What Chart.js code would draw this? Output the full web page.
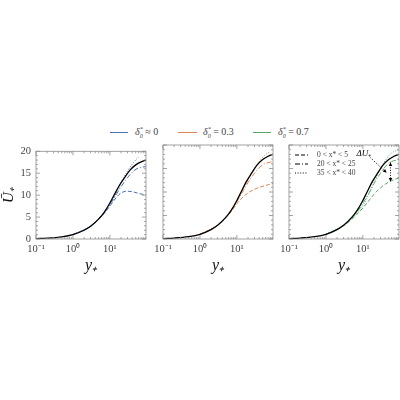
<!DOCTYPE html>
<html>
<head>
<meta charset="utf-8">
<script src="https://cdn.jsdelivr.net/npm/chart.js@4.4.1/dist/chart.umd.min.js"></script>
<style>
  body { margin: 0; background: #fff; }
  #wrap { position: relative; width: 400px; height: 400px; font-family: "Liberation Serif", "DejaVu Serif", serif; color: #333; }
  canvas { position: absolute; top: 140px; }
  .key { position: absolute; top: 132px; height: 1.3px; }
  .lab { position: absolute; top: 126px; font-size: 10px; white-space: nowrap; font-style: italic; color: #444; }
  .lab span { font-style: normal; }
</style>
</head>
<body>
<div id="wrap">
  <span class="key" style="left:110px;width:18px;background:#4C72B0"></span>
  <span class="lab" style="left:135px">δ<sub style="font-size:6px">0</sub><sup style="font-size:6px;margin-left:-3px">*</sup> <span>≈ 0</span></span>
  <span class="key" style="left:178px;width:19px;background:#DD8452"></span>
  <span class="lab" style="left:203px">δ<sub style="font-size:6px">0</sub><sup style="font-size:6px;margin-left:-3px">*</sup> <span>= 0.3</span></span>
  <span class="key" style="left:253px;width:18px;background:#55A868"></span>
  <span class="lab" style="left:278px">δ<sub style="font-size:6px">0</sub><sup style="font-size:6px;margin-left:-3px">*</sup> <span>= 0.7</span></span>
  <canvas id="p1" style="left:0px" width="150" height="140"></canvas>
  <canvas id="p2" style="left:150px" width="127" height="140"></canvas>
  <canvas id="p3" style="left:276px" width="124" height="140"></canvas>
</div>
<script>
// reference (smooth wall) profile
const yPlusRef = [0.1, 0.2, 0.5, 1, 2, 3, 5, 7, 10, 13, 18, 25, 35, 50, 70, 95];
const uRef     = [0.1, 0.2, 0.5, 1.0, 2.0, 2.9, 4.6, 6.1, 8.2, 10.0, 12.2, 14.0, 15.7, 16.9, 17.6, 18.0];

// profiles of the three cases, sampled at the same y+
const yPlusCase = [1, 3, 5, 7, 10, 15, 20, 30, 45, 60, 75, 95];

const blueEarly = [1.0, 2.9, 4.5, 5.8, 7.5, 9.5, 10.5, 10.9, 10.7, 10.4, 10.2, 10.1];
const blueMid   = [1.0, 2.9, 4.6, 6.0, 7.9, 10.2, 11.9, 14.0, 15.6, 16.2, 16.4, 16.5];
const blueLate  = [1.0, 2.9, 4.6, 6.0, 7.8, 10.5, 12.8, 15.5, 17.6, 18.7, null, null];

const orangeEarly = [1.0, 2.9, 4.5, 5.8, 7.5, 9.0, 9.8, 10.6, 11.1, 11.4, 11.6, 11.8];
const orangeMid   = [1.0, 2.9, 4.6, 6.0, 8.0, 10.3, 12.0, 14.0, 15.5, 16.1, 16.3, 16.5];
const orangeLate  = [1.0, 2.9, 4.6, 6.1, 8.0, 10.6, 12.6, 15.0, 17.0, 18.0, 18.5, null];

const greenEarly = [1.0, 2.8, 4.2, 5.3, 6.6, 8.3, 9.5, 10.9, 11.9, 12.4, 12.7, 13.0];
const greenMid   = [1.0, 2.9, 4.5, 5.8, 7.6, 9.9, 11.8, 14.0, 15.8, 16.5, 16.7, 16.9];
const greenLate  = [1.0, 2.9, 4.4, 5.6, 7.1, 9.8, 12.0, 15.0, 17.2, 18.3, 18.7, 19.0];

const caseLabels = ['0 < x* < 5', '20 < x* < 25', '35 < x* < 40'];

const xMajorTicks = [0.1, 1, 10];
const xTickLabels = ['10⁻¹', '10⁰', '10¹'];
const yMajorTicks = [0, 5, 10, 15, 20];

// ΔU+ annotation (data coordinates in panel 3)
const deltaText = { yPlus: 10.6, u: 18.1, text: 'ΔU₊' };
const deltaLeader = [[16, 17.3], [44, 14.1]];
const deltaArrow = [[56, 16.3], [56, 12.2]];

const xMin = 0.1, xMax = 95, yMin = 0, yMax = 20;
const dashes = [[4, 2], [5, 2, 1, 2], [1, 1.6]];
const serif = '"Liberation Serif", serif';

const toPoints = (xs, ys) => xs.map((v, i) => ({ x: v, y: ys[i] }));

const frameTicks = {
  id: 'frameTicks',
  afterDatasetsDraw(chart) {
    const { ctx, chartArea: a, scales: { x, y } } = chart;
    ctx.save();
    ctx.strokeStyle = '#8c8c8c';
    ctx.lineWidth = 0.8;
    ctx.setLineDash([]);
    ctx.strokeRect(a.left, a.top, a.width, a.height);
    ctx.beginPath();
    xMajorTicks.forEach(base => {
      for (let k = 1; k <= 9; k++) {
        const v = base * k;
        if (v < xMin || v > xMax) continue;
        const px = x.getPixelForValue(v), len = k === 1 ? 4 : 2;
        ctx.moveTo(px, a.bottom); ctx.lineTo(px, a.bottom - len);
        ctx.moveTo(px, a.top); ctx.lineTo(px, a.top + len);
      }
    });
    for (let v = yMin; v <= yMax; v++) {
      const py = y.getPixelForValue(v), len = v % 5 === 0 ? 4 : 2;
      ctx.moveTo(a.left, py); ctx.lineTo(a.left + len, py);
      ctx.moveTo(a.right, py); ctx.lineTo(a.right - len, py);
    }
    ctx.stroke();
    ctx.restore();
  }
};

// line-style key inside the last panel
const caseKey = {
  id: 'caseKey',
  afterDatasetsDraw(chart) {
    const { ctx, chartArea: a } = chart;
    ctx.save();
    ctx.font = '7.5px ' + serif;
    ctx.textBaseline = 'middle';
    caseLabels.forEach((t, i) => {
      const yy = a.top + 10 + i * 9;
      ctx.strokeStyle = '#000';
      ctx.lineWidth = 1;
      ctx.setLineDash(dashes[i]);
      ctx.beginPath(); ctx.moveTo(a.left + 6, yy); ctx.lineTo(a.left + 19, yy); ctx.stroke();
      ctx.fillStyle = '#444';
      ctx.fillText(t, a.left + 28, yy);
    });
    ctx.restore();
  }
};

function arrowHead(ctx, x1, y1, x2, y2) {
  const ang = Math.atan2(y2 - y1, x2 - x1), s = 4;
  ctx.beginPath();
  ctx.moveTo(x2, y2);
  ctx.lineTo(x2 - s * Math.cos(ang - 0.45), y2 - s * Math.sin(ang - 0.45));
  ctx.lineTo(x2 - s * Math.cos(ang + 0.45), y2 - s * Math.sin(ang + 0.45));
  ctx.closePath();
  ctx.fill();
}

const deltaNote = {
  id: 'deltaNote',
  afterDatasetsDraw(chart) {
    const { ctx, scales: { x, y } } = chart;
    const P = p => [x.getPixelForValue(p[0]), y.getPixelForValue(p[1])];
    ctx.save();
    ctx.fillStyle = '#000';
    ctx.strokeStyle = '#000';
    ctx.font = 'italic 9px ' + serif;
    ctx.textAlign = 'center';
    ctx.textBaseline = 'middle';
    ctx.fillText(deltaText.text, x.getPixelForValue(deltaText.yPlus), y.getPixelForValue(deltaText.u));
    const [a1, a2] = deltaLeader.map(P);
    ctx.lineWidth = 1;
    ctx.setLineDash([1, 1.5]);
    ctx.beginPath(); ctx.moveTo(a1[0], a1[1]); ctx.lineTo(a2[0], a2[1]); ctx.stroke();
    ctx.setLineDash([]);
    arrowHead(ctx, a1[0], a1[1], a2[0], a2[1]);
    const [b1, b2] = deltaArrow.map(P);
    ctx.setLineDash([1, 1.5]);
    ctx.beginPath(); ctx.moveTo(b1[0], b1[1]); ctx.lineTo(b2[0], b2[1]); ctx.stroke();
    ctx.setLineDash([]);
    arrowHead(ctx, b2[0], b2[1], b1[0], b1[1]);
    arrowHead(ctx, b1[0], b1[1], b2[0], b2[1]);
    ctx.restore();
  }
};

function makePanel(id, color, series, opts) {
  const datasets = [{
    data: toPoints(yPlusRef, uRef),
    borderColor: '#000', borderWidth: 1.3
  }];
  series.forEach((s, i) => datasets.push({
    data: toPoints(yPlusCase, s),
    borderColor: color, borderWidth: 1, borderDash: dashes[i]
  }));
  datasets.forEach(d => Object.assign(d, {
    pointRadius: 0, fill: false, cubicInterpolationMode: 'monotone', spanGaps: false
  }));

  return new Chart(document.getElementById(id), {
    type: 'line',
    data: { datasets },
    plugins: [frameTicks].concat(opts.plugins || []),
    options: {
      responsive: false,
      animation: false,
      layout: { padding: { top: 5, right: opts.padRight, bottom: 5, left: 0 } },
      plugins: { tooltip: { enabled: false }, legend: { display: false } },
      scales: {
        x: {
          type: 'logarithmic',
          min: xMin, max: xMax,
          grid: { display: false, drawTicks: false },
          border: { display: false },
          afterBuildTicks: s => { s.ticks = xMajorTicks.map(v => ({ value: v, major: true })); },
          afterFit: s => { s.height = 36; },
          ticks: {
            autoSkip: false, maxRotation: 0, padding: 4, color: '#444',
            font: { family: serif, size: 10.5 },
            callback: v => { const i = xMajorTicks.indexOf(v); return i >= 0 ? xTickLabels[i] : ''; }
          },
          title: {
            display: true, text: 'y₊', color: '#111', padding: { top: 0, bottom: 0 },
            font: { family: serif, size: 16, style: 'italic' }
          }
        },
        y: {
          min: yMin, max: yMax,
          grid: { display: false, drawTicks: false },
          border: { display: false },
          afterBuildTicks: s => { s.ticks = yMajorTicks.map(v => ({ value: v })); },
          afterFit: s => { s.width = opts.yWidth; },
          ticks: {
            display: !!opts.yLabels, padding: 5, color: '#444',
            font: { family: serif, size: 10.5 }
          },
          title: {
            display: !!opts.yLabels, text: 'Ū₊', color: '#111', padding: 0,
            font: { family: serif, size: 15, style: 'italic' }
          }
        }
      }
    }
  });
}

makePanel('p1', '#4C72B0', [blueEarly, blueMid, blueLate], { yWidth: 36, padRight: 4, yLabels: true });
makePanel('p2', '#DD8452', [orangeEarly, orangeMid, orangeLate], { yWidth: 13, padRight: 4 });
makePanel('p3', '#55A868', [greenEarly, greenMid, greenLate], { yWidth: 13, padRight: 1, plugins: [caseKey, deltaNote] });
</script>
</body>
</html>
